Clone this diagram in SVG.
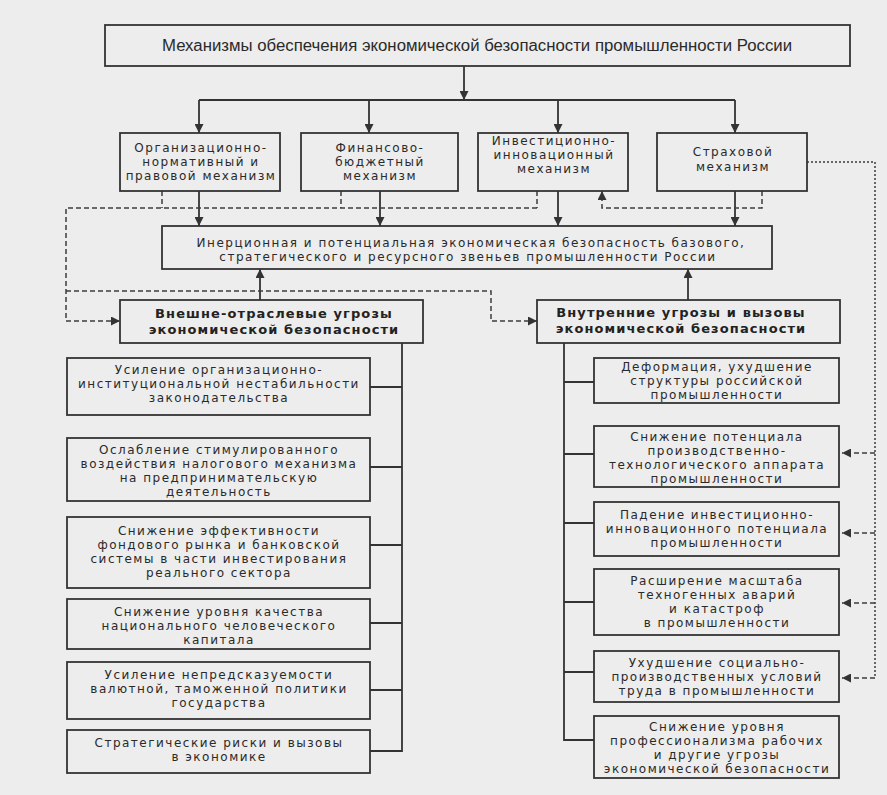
<svg xmlns="http://www.w3.org/2000/svg" width="887" height="795" viewBox="0 0 887 795">
<defs>
<marker id="ah" viewBox="0 0 10 10" refX="10" refY="5" markerWidth="11" markerHeight="9" markerUnits="userSpaceOnUse" orient="auto">
<path d="M0,0 L10,5 L0,10 z" fill="#333"/>
</marker>
<style>
.bg{fill:#ededed}
.box{fill:#ededed;stroke:#333;stroke-width:1.8}
.t{font-family:"DejaVu Sans",sans-serif;font-size:12px;letter-spacing:1.5px;fill:#2a2a2a;text-anchor:middle}
.b{font-family:"DejaVu Sans",sans-serif;font-size:13px;letter-spacing:1.1px;font-weight:bold;fill:#222;text-anchor:middle}
.top{font-family:"Liberation Sans",sans-serif;font-size:16px;fill:#2a2a2a;text-anchor:middle}
.s{fill:none;stroke:#333;stroke-width:1.8}
.d{fill:none;stroke:#3c3c3c;stroke-width:1.5;stroke-dasharray:5,3}
.dt{fill:none;stroke:#3c3c3c;stroke-width:1.5;stroke-dasharray:2,2}
</style>
</defs>
<rect class="bg" x="0" y="0" width="887" height="795"/>

<g id="connectors">
<path class="s" d="M464,66 V100" marker-end="url(#ah)"/>
<path class="s" d="M199,100 H735"/>
<path class="s" d="M199,100 V133" marker-end="url(#ah)"/>
<path class="s" d="M369,100 V133" marker-end="url(#ah)"/>
<path class="s" d="M558,100 V133" marker-end="url(#ah)"/>
<path class="s" d="M735,100 V133" marker-end="url(#ah)"/>
<path class="s" d="M199,191 V226" marker-end="url(#ah)"/>
<path class="s" d="M380,191 V226" marker-end="url(#ah)"/>
<path class="s" d="M558,191 V226" marker-end="url(#ah)"/>
<path class="s" d="M735,191 V226" marker-end="url(#ah)"/>
<path class="s" d="M260,300 V269" marker-end="url(#ah)"/>
<path class="s" d="M688,300 V269" marker-end="url(#ah)"/>
<path class="s" d="M402,343 V751 H370 M402,387 H370 M402,467 H370 M402,545 H370 M402,623 H370 M402,690 H370"/>
<path class="s" d="M564,343 V740 H594 M564,382 H594 M564,454 H594 M564,523 H594 M564,602 H594 M564,672 H594"/>
<path class="d" d="M162,191 V208 M341,191 V208 M537,191 V208 M537,208 H66 V321 H120" marker-end="url(#ah)"/>
<path class="d" d="M66,291 H491 V321 H537" marker-end="url(#ah)"/>
<path class="d" d="M762,191 V208 H602 V191" marker-end="url(#ah)"/>
<path class="dt" d="M807,162 H875 V678"/>
<path class="d" d="M875,453 H842" marker-end="url(#ah)"/>
<path class="d" d="M875,533 H842" marker-end="url(#ah)"/>
<path class="d" d="M875,603 H842" marker-end="url(#ah)"/>
<path class="d" d="M875,678 H842" marker-end="url(#ah)"/>
</g>

<g id="n-top">
<rect class="box" x="105" y="25" width="745" height="41"/>
<text class="top" x="477" y="51" textLength="630" lengthAdjust="spacingAndGlyphs">Механизмы обеспечения экономической безопасности промышленности России</text>
</g>

<g id="n-m1">
<rect class="box" x="120" y="133" width="160" height="58"/>
<text class="t" x="201" y="152">Организационно-</text>
<text class="t" x="201" y="166">нормативный и</text>
<text class="t" x="201" y="180">правовой механизм</text>
</g>
<g id="n-m2">
<rect class="box" x="301" y="133" width="157" height="58"/>
<text class="t" x="380" y="152">Финансово-</text>
<text class="t" x="380" y="166">бюджетный</text>
<text class="t" x="380" y="180">механизм</text>
</g>
<g id="n-m3">
<rect class="box" x="478" y="133" width="150" height="58"/>
<text class="t" x="554" y="145">Инвестиционно-</text>
<text class="t" x="554" y="159">инновационный</text>
<text class="t" x="554" y="173">механизм</text>
</g>
<g id="n-m4">
<rect class="box" x="657" y="133" width="150" height="58"/>
<text class="t" x="733" y="156">Страховой</text>
<text class="t" x="733" y="171">механизм</text>
</g>

<g id="n-inert">
<rect class="box" x="162" y="226" width="610" height="43"/>
<text class="t" x="471" y="247">Инерционная и потенциальная экономическая безопасность базового,</text>
<text class="t" x="468" y="261">стратегического и ресурсного звеньев промышленности России</text>
</g>

<g id="n-ext">
<rect class="box" x="120" y="300" width="303" height="43"/>
<text class="b" x="274" y="318">Внешне-отраслевые угрозы</text>
<text class="b" x="274" y="334">экономической безопасности</text>
</g>
<g id="n-int">
<rect class="box" x="537" y="300" width="303" height="43"/>
<text class="b" x="681" y="317">Внутренние угрозы и вызовы</text>
<text class="b" x="681" y="333">экономической безопасности</text>
</g>

<g id="n-l1">
<rect class="box" x="67" y="358" width="303" height="57"/>
<text class="t" x="219" y="374">Усиление организационно-</text>
<text class="t" x="219" y="388">институциональной нестабильности</text>
<text class="t" x="219" y="402">законодательства</text>
</g>
<g id="n-l2">
<rect class="box" x="67" y="438" width="303" height="63"/>
<text class="t" x="219" y="454">Ослабление стимулированного</text>
<text class="t" x="219" y="468">воздействия налогового механизма</text>
<text class="t" x="219" y="482">на предпринимательскую</text>
<text class="t" x="219" y="496">деятельность</text>
</g>
<g id="n-l3">
<rect class="box" x="67" y="517" width="303" height="71"/>
<text class="t" x="219" y="535">Снижение эффективности</text>
<text class="t" x="219" y="549">фондового рынка и банковской</text>
<text class="t" x="219" y="563">системы в части инвестирования</text>
<text class="t" x="219" y="577">реального сектора</text>
</g>
<g id="n-l4">
<rect class="box" x="67" y="599" width="303" height="50"/>
<text class="t" x="219" y="616">Снижение уровня качества</text>
<text class="t" x="219" y="630">национального человеческого</text>
<text class="t" x="219" y="644">капитала</text>
</g>
<g id="n-l5">
<rect class="box" x="67" y="662" width="303" height="57"/>
<text class="t" x="219" y="679">Усиление непредсказуемости</text>
<text class="t" x="219" y="693">валютной, таможенной политики</text>
<text class="t" x="219" y="707">государства</text>
</g>
<g id="n-l6">
<rect class="box" x="67" y="730" width="303" height="43"/>
<text class="t" x="219" y="747">Стратегические риски и вызовы</text>
<text class="t" x="219" y="761">в экономике</text>
</g>

<g id="n-r1">
<rect class="box" x="594" y="358" width="245" height="45"/>
<text class="t" x="717" y="371">Деформация, ухудшение</text>
<text class="t" x="717" y="385">структуры российской</text>
<text class="t" x="717" y="399">промышленности</text>
</g>
<g id="n-r2">
<rect class="box" x="594" y="426" width="245" height="61"/>
<text class="t" x="717" y="441">Снижение потенциала</text>
<text class="t" x="717" y="455">производственно-</text>
<text class="t" x="717" y="469">технологического аппарата</text>
<text class="t" x="717" y="483">промышленности</text>
</g>
<g id="n-r3">
<rect class="box" x="594" y="502" width="245" height="54"/>
<text class="t" x="717" y="519">Падение инвестиционно-</text>
<text class="t" x="717" y="533">инновационного потенциала</text>
<text class="t" x="717" y="547">промышленности</text>
</g>
<g id="n-r4">
<rect class="box" x="594" y="569" width="245" height="66"/>
<text class="t" x="717" y="585">Расширение масштаба</text>
<text class="t" x="717" y="599">техногенных аварий</text>
<text class="t" x="717" y="613">и катастроф</text>
<text class="t" x="717" y="627">в промышленности</text>
</g>
<g id="n-r5">
<rect class="box" x="594" y="651" width="245" height="51"/>
<text class="t" x="717" y="667">Ухудшение социально-</text>
<text class="t" x="717" y="681">производственных условий</text>
<text class="t" x="717" y="695">труда в промышленности</text>
</g>
<g id="n-r6">
<rect class="box" x="594" y="716" width="245" height="62"/>
<text class="t" x="717" y="731">Снижение уровня</text>
<text class="t" x="717" y="745">профессионализма рабочих</text>
<text class="t" x="717" y="759">и другие угрозы</text>
<text class="t" x="717" y="773">экономической безопасности</text>
</g>
</svg>
